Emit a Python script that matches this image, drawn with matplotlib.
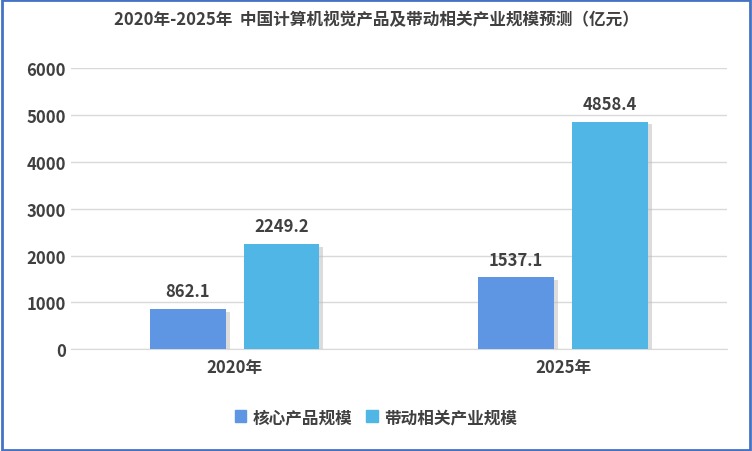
import matplotlib
matplotlib.use("Agg")
import matplotlib.pyplot as plt
import numpy as np

plt.rcParams['font.family'] = ['Noto Sans CJK SC', 'DejaVu Sans']

years = ["2020年", "2025年"]
core = [862.1, 1537.1]
related = [2249.2, 4858.4]
series_names = ["核心产品规模", "带动相关产业规模"]

fig = plt.figure(figsize=(7.52, 4.52), dpi=100)
ax = fig.add_axes([0.094, 0.225, 0.873, 0.622])

x = np.arange(len(years))
w = 0.23
off = 0.143
colors = ["#5F96E3", "#4FB6E6"]
for vals, dx, c in [(core, -off, colors[0]), (related, off, colors[1])]:
    # soft shadow
    ax.bar(x + dx + 0.012, vals, w, bottom=-60, color="#BBBBBB", alpha=0.5, zorder=2)
    bars = ax.bar(x + dx, vals, w, color=c, zorder=3)
    for b, v in zip(bars, vals):
        ax.text(b.get_x() + b.get_width() / 2, v + 180, f"{v:.1f}", ha="center", va="bottom",
                fontsize=12, fontweight="bold", color="#404040")

ax.set_ylim(0, 6000)
ax.set_xlim(-0.5, 1.5)
ax.set_yticks(range(0, 6001, 1000))
ax.set_xticks(x)
ax.set_xticklabels(years, fontsize=12, fontweight="bold", color="#404040")
ax.tick_params(axis="y", labelsize=12, colors="#404040", length=0)
for t in ax.get_yticklabels():
    t.set_fontweight("bold")
ax.tick_params(axis="x", length=0, pad=6)
ax.grid(axis="y", color="#D9D9D9", lw=1, zorder=0)
for s in ["top", "right", "left"]:
    ax.spines[s].set_visible(False)
ax.spines["bottom"].set_color("#D9D9D9")

fig.text(0.5, 0.955, "2020年-2025年  中国计算机视觉产品及带动相关产业规模预测（亿元）",
         ha="center", va="center", fontsize=12, fontweight="bold", color="#404040")

handles = [plt.Rectangle((0, 0), 1, 1, color=c) for c in colors]
fig.legend(handles, series_names, loc="center", bbox_to_anchor=(0.5, 0.075), ncol=2,
           frameon=False, prop={"size": 12, "weight": "bold"}, handlelength=0.7,
           handleheight=0.7, columnspacing=0.8, handletextpad=0.4, labelcolor="#404040")

fig.patches.append(plt.Rectangle((0.002, 0.003), 0.995, 0.994, transform=fig.transFigure,
                                 fill=False, edgecolor="#4472C4", lw=2))
fig.savefig("out.png", dpi=100)
